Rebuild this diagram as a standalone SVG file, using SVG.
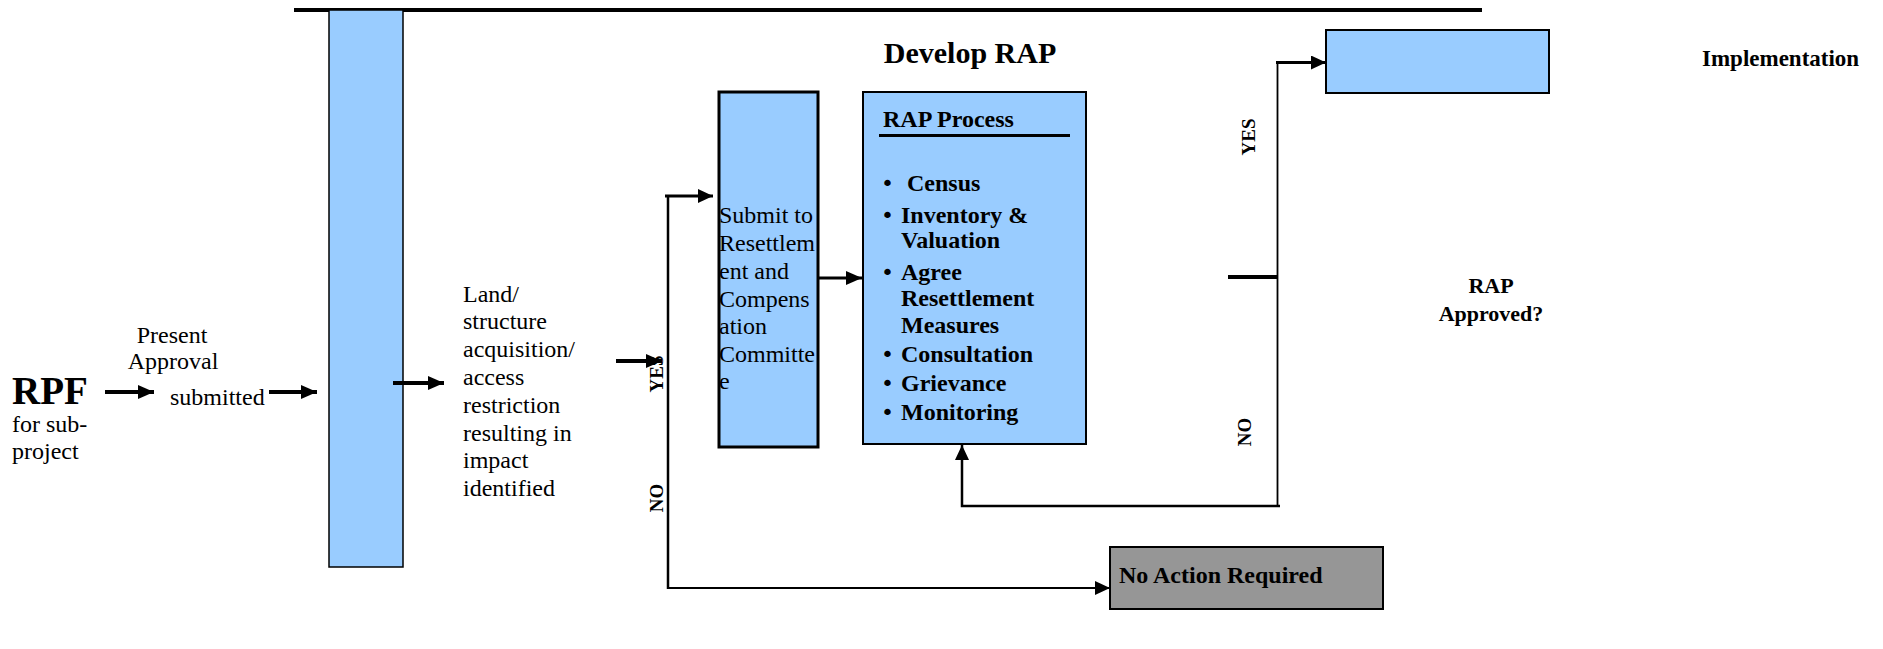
<svg xmlns="http://www.w3.org/2000/svg" width="1883" height="649" viewBox="0 0 1883 649">
<style>
.t{font-family:"Liberation Serif","Times New Roman",serif;font-size:24px;fill:#000}
.b{font-family:"Liberation Serif","Times New Roman",serif;font-weight:bold;fill:#000}
.box{fill:#99CCFF;stroke:#000}
.ln{fill:none;stroke:#000}
.bul{font-family:"DejaVu Sans",sans-serif;font-size:22px;fill:#000}
</style>
<defs>
<marker id="ah" viewBox="0 0 16 14" markerWidth="16" markerHeight="14" refX="16" refY="7" orient="auto" markerUnits="userSpaceOnUse"><path d="M0,0 L16,7 L0,14 z" fill="#000"/></marker>
<marker id="ahs" viewBox="0 0 15 14" markerWidth="15" markerHeight="14" refX="15" refY="7" orient="auto" markerUnits="userSpaceOnUse"><path d="M0,0 L15,7 L0,14 z" fill="#000"/></marker>
</defs>
<rect width="1883" height="649" fill="#fff"/>

<g id="topline"><line x1="294" y1="10" x2="1482" y2="10" stroke="#000" stroke-width="4"/></g>

<g id="rpf">
<text class="b" x="12" y="404" font-size="39">RPF</text>
<text class="t" x="12" y="432">for sub-</text>
<text class="t" x="12" y="459">project</text>
</g>

<g id="present">
<text class="t" x="172" y="343" text-anchor="middle">Present</text>
<text class="t" x="173" y="369" text-anchor="middle">Approval</text>
<text class="t" x="170" y="405">submitted</text>
</g>

<g id="column"><rect class="box" x="329" y="10" width="74" height="557" stroke-width="1.5"/></g>

<g id="land">
<text class="t" x="463" y="302">Land/</text>
<text class="t" x="463" y="329">structure</text>
<text class="t" x="463" y="357">acquisition/</text>
<text class="t" x="463" y="385">access</text>
<text class="t" x="463" y="413">restriction</text>
<text class="t" x="463" y="441">resulting in</text>
<text class="t" x="463" y="468">impact</text>
<text class="t" x="463" y="496">identified</text>
</g>

<g id="submit">
<rect class="box" x="719" y="92" width="99" height="355" stroke-width="3"/>
<text class="t" x="719" y="223">Submit to</text>
<text class="t" x="719" y="251">Resettlem</text>
<text class="t" x="719" y="279">ent and</text>
<text class="t" x="719" y="307">Compens</text>
<text class="t" x="719" y="334">ation</text>
<text class="t" x="719" y="362">Committe</text>
<text class="t" x="719" y="389">e</text>
</g>

<g id="develop"><text class="b" x="970" y="63" font-size="30" text-anchor="middle">Develop RAP</text></g>

<g id="rapprocess">
<rect class="box" x="863" y="92" width="223" height="352" stroke-width="2"/>
<text class="b" x="883" y="127" font-size="24">RAP Process</text>
<line x1="879" y1="135.5" x2="1070" y2="135.5" stroke="#000" stroke-width="3"/>
<g class="bul">
<text x="881" y="191">•</text>
<text x="881" y="223">•</text>
<text x="881" y="280">•</text>
<text x="881" y="362">•</text>
<text x="881" y="391">•</text>
<text x="881" y="420">•</text>
</g>
<g class="b" font-size="24">
<text x="907" y="191">Census</text>
<text x="901" y="223">Inventory &amp;</text>
<text x="901" y="248">Valuation</text>
<text x="901" y="280">Agree</text>
<text x="901" y="306">Resettlement</text>
<text x="901" y="333">Measures</text>
<text x="901" y="362">Consultation</text>
<text x="901" y="391">Grievance</text>
<text x="901" y="420">Monitoring</text>
</g>
</g>

<g id="implementation">
<rect class="box" x="1326" y="30" width="223" height="63" stroke-width="2"/>
<text class="b" x="1702" y="66" font-size="23">Implementation</text>
</g>

<g id="rapapproved">
<text class="b" x="1491" y="293" font-size="22" text-anchor="middle">RAP</text>
<text class="b" x="1491" y="321" font-size="22" text-anchor="middle">Approved?</text>
</g>

<g id="noaction">
<rect x="1110" y="547" width="273" height="62" fill="#969696" stroke="#000" stroke-width="2"/>
<text class="b" x="1119" y="583" font-size="24">No Action Required</text>
</g>

<g id="connectors">
<line class="ln" x1="105" y1="392" x2="154" y2="392" stroke-width="4" marker-end="url(#ah)"/>
<line class="ln" x1="269" y1="392" x2="317" y2="392" stroke-width="4" marker-end="url(#ah)"/>
<line class="ln" x1="393" y1="383" x2="444" y2="383" stroke-width="4" marker-end="url(#ah)"/>
<line class="ln" x1="616" y1="361" x2="662" y2="361" stroke-width="4" marker-end="url(#ah)"/>
<path class="ln" d="M668,196 V589" stroke-width="2.5"/>
<path class="ln" d="M665,196 H713" stroke-width="3" marker-end="url(#ahs)"/>
<path class="ln" d="M667,588 H1110" stroke-width="2" marker-end="url(#ahs)"/>
<line class="ln" x1="817" y1="278" x2="862" y2="278" stroke-width="3" marker-end="url(#ah)"/>
<line class="ln" x1="1228" y1="277" x2="1277" y2="277" stroke-width="4"/>
<path class="ln" d="M1277.5,62.5 V507" stroke-width="1.8"/>
<path class="ln" d="M1276,62.5 H1326" stroke-width="3" marker-end="url(#ahs)"/>
<path class="ln" d="M1280,506 H962 V445" stroke-width="2.5" marker-end="url(#ahs)"/>
<g class="b" font-size="19">
<text transform="translate(663,374) rotate(-90)" text-anchor="middle">YES</text>
<text transform="translate(663,498) rotate(-90)" text-anchor="middle">NO</text>
<text transform="translate(1255,137) rotate(-90)" text-anchor="middle">YES</text>
<text transform="translate(1251,432) rotate(-90)" text-anchor="middle">NO</text>
</g>
</g>
</svg>
